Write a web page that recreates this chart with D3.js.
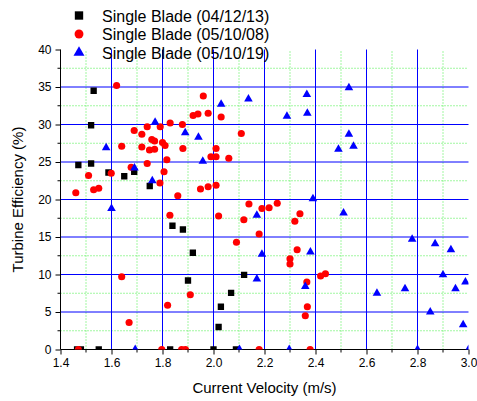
<!DOCTYPE html>
<html>
<head>
<meta charset="utf-8">
<script src="https://cdn.jsdelivr.net/npm/d3@7"></script>
<style>
  body { margin: 0; background: #fff; }
  text { font-family: "Liberation Sans", Arial, sans-serif; fill: #000; }
</style>
</head>
<body>
<div id="chart"></div>
<script>
// data
const seriesNames = ["Single Blade (04/12/13)", "Single Blade (05/10/08)", "Single Blade (05/10/19)"];

const blackX = [1.465, 1.48, 1.55, 1.53, 1.52, 1.47, 1.52, 1.588, 1.65, 1.689, 1.75, 1.839, 1.88, 1.919, 1.90, 2.12, 2.069, 2.029, 2.02, 1.83, 2.0, 2.088];
const blackY = [0, 0, 0, 34.5, 29.9, 24.6, 24.8, 23.6, 23.1, 23.7, 21.8, 16.5, 16.0, 12.9, 9.2, 9.95, 7.55, 5.7, 3.0, 0, 0, 0];

const redX = [1.62, 1.96, 1.92, 1.939, 1.979, 2.03, 1.83, 1.878, 1.791, 1.74, 1.689, 1.719, 2.109, 1.758, 1.769, 1.80, 1.81,
  1.64, 1.719, 1.749, 1.769, 1.88, 2.01, 1.817, 1.99, 2.01, 2.06, 1.74, 1.677, 1.806, 1.599, 1.51, 1.79, 1.46, 1.53, 1.55,
  1.86, 1.949, 1.979, 2.01, 2.139, 2.19, 2.218, 2.25, 1.829, 2.02, 2.119, 2.339, 2.319, 2.179, 2.09, 2.328, 2.30, 2.30,
  2.366, 2.42, 2.439, 1.64, 1.909, 1.82, 2.368, 2.36, 1.669, 1.47, 1.797, 1.875, 1.89, 2.179, 2.379];
const redY = [35.2, 33.8, 31.2, 31.4, 31.5, 31.0, 30.2, 30.0, 29.7, 29.7, 29.2, 28.7, 28.8, 28.0, 27.8, 27.6, 27.2,
  27.1, 27.0, 26.6, 26.7, 26.8, 26.8, 25.3, 25.7, 25.7, 25.5, 24.8, 24.3, 23.7, 23.5, 23.2, 22.2, 20.9, 21.3, 21.5,
  20.5, 21.4, 21.7, 21.9, 19.4, 18.8, 18.9, 19.5, 17.9, 17.8, 17.3, 18.1, 17.1, 15.4, 14.3, 13.3, 12.1, 11.4,
  9.0, 9.8, 10.1, 9.7, 7.3, 5.9, 5.7, 4.5, 3.6, 0, 0, 0, 0, 0, 0];

const blueX = [1.579, 1.69, 1.771, 1.76, 1.60, 1.693, 1.889, 1.941, 1.958, 2.03, 2.137, 2.366, 2.288, 2.368, 2.531, 2.531,
  2.49, 2.549, 2.39, 2.51, 2.17, 2.19, 2.17, 2.38, 2.36, 2.779, 2.869, 2.931, 2.641, 2.751, 2.90, 2.949, 2.988, 2.85,
  2.979, 2.102, 2.297, 2.80, 3.0];
const blueY = [26.9, 24.2, 30.3, 22.5, 18.8, 0, 28.9, 28.3, 25.1, 32.7, 33.4, 34.0, 31.1, 31.5, 34.9, 28.7,
  26.7, 27.1, 20.1, 18.2, 17.9, 12.7, 9.4, 13.0, 8.4, 14.7, 14.1, 13.3, 7.5, 8.1, 9.95, 8.1, 9.0, 5.0,
  3.3, 0, 0, 0, 0];

const xTicks = [1.4, 1.6, 1.8, 2.0, 2.2, 2.4, 2.6, 2.8, 3.0];
const yTicks = [0, 5, 10, 15, 20, 25, 30, 35, 40];

const width = 477, height = 401;
const margin = {left: 60.5, right: 8.5, top: 49.5, bottom: 51.5};

const svg = d3.select("#chart").append("svg")
    .attr("width", width)
    .attr("height", height);

const x = d3.scaleLinear().domain([1.4, 3.0]).range([margin.left, width - margin.right]);
const y = d3.scaleLinear().domain([0, 40]).range([height - margin.bottom, margin.top]);

const x0 = x.range()[0], x1 = x.range()[1];
const y0 = y.range()[0], y1 = y.range()[1];

// minor grid (green dotted)
const xMinor = d3.range(1.5, 3.0, 0.2);
const yMinor = d3.range(2.5, 40, 5);
const grid = svg.append("g");
grid.selectAll(".vminor").data(xMinor).enter().append("line")
    .attr("x1", d => x(d)).attr("x2", d => x(d))
    .attr("y1", y0).attr("y2", y1)
    .attr("stroke", "#44ee44").attr("stroke-dasharray", "1,2");
grid.selectAll(".hminor").data(yMinor).enter().append("line")
    .attr("x1", x0).attr("x2", x1)
    .attr("y1", d => y(d)).attr("y2", d => y(d))
    .attr("stroke", "#44ee44").attr("stroke-dasharray", "1,2");

// major grid (blue)
grid.selectAll(".vmajor").data(xTicks.slice(1, -1)).enter().append("line")
    .attr("x1", d => x(d)).attr("x2", d => x(d))
    .attr("y1", y0).attr("y2", y1)
    .attr("stroke", "#0000ff");
grid.selectAll(".hmajor").data(yTicks.slice(1, -1)).enter().append("line")
    .attr("x1", x0).attr("x2", x1)
    .attr("y1", d => y(d)).attr("y2", d => y(d))
    .attr("stroke", "#0000ff");

// axes
const xAxis = d3.axisBottom(x).tickValues(xTicks).tickFormat(d3.format(".1f")).tickSize(5).tickPadding(4);
const yAxis = d3.axisLeft(y).tickValues(yTicks).tickFormat(d3.format("d")).tickSize(5).tickPadding(4);

const gx = svg.append("g").attr("transform", `translate(0,${y0})`).call(xAxis);
const gy = svg.append("g").attr("transform", `translate(${x0},0)`).call(yAxis);
[gx, gy].forEach(g => {
  g.select(".domain").remove();
  g.selectAll("text").style("font-size", "12px").style("font-family", '"Liberation Sans", Arial, sans-serif');
});

// minor ticks
svg.append("g").selectAll("line").data(xMinor).enter().append("line")
    .attr("x1", d => x(d)).attr("x2", d => x(d))
    .attr("y1", y0).attr("y2", y0 + 3)
    .attr("stroke", "#000");
svg.append("g").selectAll("line").data(yMinor).enter().append("line")
    .attr("x1", x0 - 3).attr("x2", x0)
    .attr("y1", d => y(d)).attr("y2", d => y(d))
    .attr("stroke", "#000");

// axis lines
svg.append("line").attr("x1", x0).attr("x2", x1).attr("y1", y0).attr("y2", y0).attr("stroke", "#000");
svg.append("line").attr("x1", x0).attr("x2", x0).attr("y1", y0).attr("y2", y1).attr("stroke", "#000");

// clip for markers
svg.append("clipPath").attr("id", "plotclip")
  .append("rect").attr("x", x0).attr("y", y1).attr("width", x1 - x0).attr("height", y0 - y1);

const marks = svg.append("g").attr("clip-path", "url(#plotclip)");

const series = [
  {xs: blackX, ys: blackY, color: "#000000", type: d3.symbolSquare, size: 40},
  {xs: redX, ys: redY, color: "#ff0000", type: d3.symbolCircle, size: 40},
  {xs: blueX, ys: blueY, color: "#0000ff", type: d3.symbolTriangle, size: 32}
];

series.forEach(s => {
  const pts = s.xs.map((v, i) => [v, s.ys[i]]);
  marks.append("g").selectAll("path").data(pts).enter().append("path")
      .attr("d", d3.symbol().type(s.type).size(s.size))
      .attr("transform", d => `translate(${x(d[0])},${y(d[1])})`)
      .attr("fill", s.color);
});

// legend
const legendSizes = [70, 62, 52];
const legend = svg.append("g");
series.forEach((s, i) => {
  const ly = 15.5 + i * 18.5;
  legend.append("path")
      .attr("d", d3.symbol().type(s.type).size(legendSizes[i]))
      .attr("transform", `translate(79,${ly})`)
      .attr("fill", s.color);
  legend.append("text")
      .attr("x", 102).attr("y", ly + 6)
      .style("font-size", "16px")
      .text(seriesNames[i]);
});

// axis titles
svg.append("text")
    .attr("x", (x0 + x1) / 2).attr("y", 393)
    .attr("text-anchor", "middle")
    .style("font-size", "15px")
    .text("Current Velocity (m/s)");

svg.append("text")
    .attr("transform", `translate(23,${(y0 + y1) / 2}) rotate(-90)`)
    .attr("text-anchor", "middle")
    .style("font-size", "15px")
    .text("Turbine Efficiency (%)");
</script>
</body>
</html>
